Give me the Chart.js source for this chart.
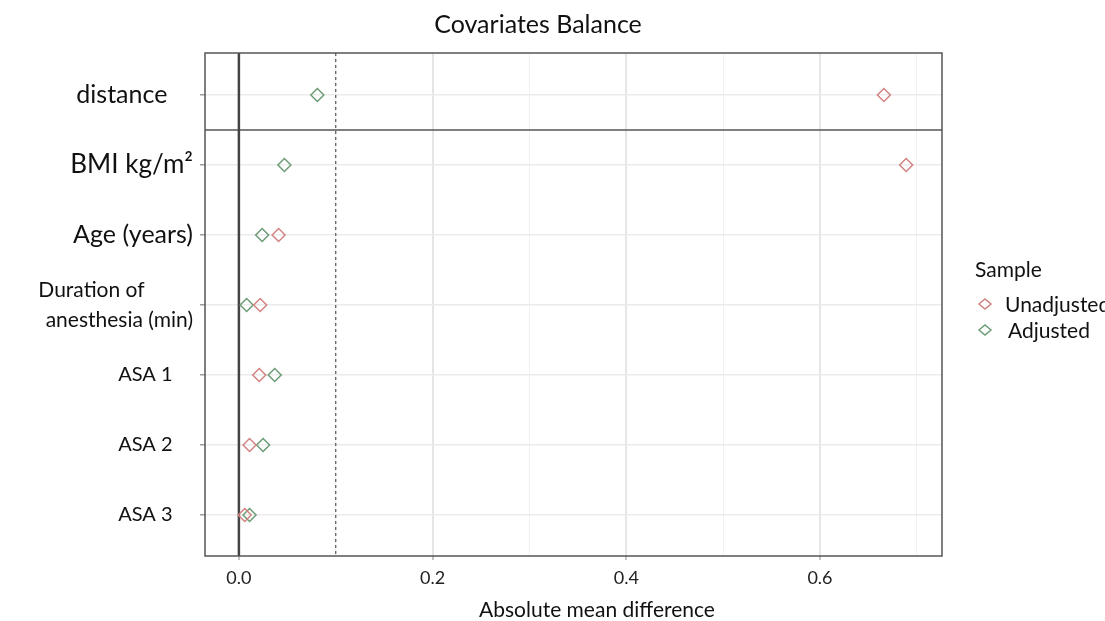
<!DOCTYPE html>
<html>
<head>
<meta charset="utf-8">
<script src="https://cdn.jsdelivr.net/npm/chart.js@4.4.0/dist/chart.umd.min.js"></script>
<style>
  html, body { margin: 0; padding: 0; background: #fff; }
  #wrap { width: 1105px; height: 621px; }
</style>
</head>
<body>
<div id="wrap"><canvas id="love"></canvas></div>
<script>
/* ── Data ───────────────────────────────────────────────────── */
const covariates  = ['distance', 'BMI kg/m²', 'Age (years)', ['Duration of', 'anesthesia (min)'], 'ASA 1', 'ASA 2', 'ASA 3'];
const unadjusted  = [0.666, 0.689, 0.041, 0.022, 0.021, 0.011, 0.006];
const adjusted    = [0.081, 0.047, 0.024, 0.008, 0.037, 0.025, 0.011];
const seriesNames = ['Unadjusted', 'Adjusted'];
const xMajorTicks = [0, 0.2, 0.4, 0.6];
const xMinorTicks = [0.1, 0.3, 0.5, 0.7];
const threshold   = 0.1;

/* ── Styles ─────────────────────────────────────────────────── */
const FONT       = 'Lato, "Open Sans", sans-serif';
const RED        = '#D48282';
const GREEN      = '#6C9C76';
const FRAME      = '#555555';
const labelSizes = [25, 26, 25, 21, 20, 20, 20];
const labelTail  = [4, 0, 0, 9, 4, 4, 4];   // trailing spaces to nudge labels left

const toPoints = vals => vals.map((v, i) => ({ x: v, y: i }));

/* ── Plugins: frame, reference lines, titles, legend ────────── */
const refLines = {
  id: 'refLines',
  beforeDatasetsDraw(chart) {
    const { ctx, chartArea: a, scales: { x, y } } = chart;
    ctx.save();
    ctx.strokeStyle = FRAME;

    // separator between distance and covariates
    ctx.lineWidth = 1.3;
    const ys = y.getPixelForValue(0.5);
    ctx.beginPath(); ctx.moveTo(a.left, ys); ctx.lineTo(a.right, ys); ctx.stroke();

    // threshold (dashed)
    ctx.lineWidth = 1.2;
    ctx.setLineDash([3, 3]);
    const xt = x.getPixelForValue(threshold);
    ctx.beginPath(); ctx.moveTo(xt, a.top); ctx.lineTo(xt, a.bottom); ctx.stroke();
    ctx.setLineDash([]);

    // zero line
    ctx.strokeStyle = '#444';
    ctx.lineWidth = 2.5;
    const x0 = x.getPixelForValue(0);
    ctx.beginPath(); ctx.moveTo(x0, a.top); ctx.lineTo(x0, a.bottom); ctx.stroke();

    // frame
    ctx.strokeStyle = FRAME;
    ctx.lineWidth = 1.5;
    ctx.strokeRect(a.left, a.top, a.right - a.left, a.bottom - a.top);
    ctx.restore();
  },
  afterDraw(chart) {
    const { ctx } = chart;
    ctx.save();
    ctx.fillStyle = '#111';
    ctx.textBaseline = 'middle';

    // titles
    ctx.textAlign = 'center';
    ctx.font = '25px ' + FONT;
    ctx.fillText('Covariates Balance', 538, 25);
    ctx.font = '21px ' + FONT;
    ctx.fillText('Absolute mean difference', 597, 610);

    // legend
    ctx.textAlign = 'left';
    ctx.font = '21px ' + FONT;
    ctx.fillText('Sample', 975, 270);
    chart.data.datasets.forEach((ds, i) => {
      const yy = 304 + i * 26;
      ctx.strokeStyle = ds.borderColor;
      ctx.lineWidth = 1.5;
      ctx.beginPath();
      ctx.moveTo(979, yy); ctx.lineTo(985, yy - 5); ctx.lineTo(991, yy); ctx.lineTo(985, yy + 5);
      ctx.closePath(); ctx.stroke();
      ctx.fillStyle = '#111';
      ctx.fillText(ds.label, 1005 + i * 3, yy + 1);
    });
    ctx.restore();
  }
};

/* ── Chart ──────────────────────────────────────────────────── */
new Chart(document.getElementById('love'), {
  type: 'scatter',
  data: {
    datasets: [
      { label: seriesNames[0], data: toPoints(unadjusted), borderColor: RED,   backgroundColor: 'rgba(255,255,255,0)' },
      { label: seriesNames[1], data: toPoints(adjusted),   borderColor: GREEN, backgroundColor: 'rgba(255,255,255,0)' }
    ]
  },
  options: {
    responsive: true,
    maintainAspectRatio: false,
    animation: false,
    elements: { point: { pointStyle: 'rectRot', radius: 6.5, borderWidth: 1.5 } },
    layout: { padding: { top: 53, right: 163, bottom: 0, left: 0 } },
    plugins: { legend: { display: false }, title: { display: false }, tooltip: { enabled: false } },
    scales: {
      x: {
        type: 'linear', min: -0.035, max: 0.726,
        afterBuildTicks: s => {
          s.ticks = [...xMajorTicks, ...xMinorTicks].sort((a, b) => a - b).map(v => ({ value: v }));
        },
        afterFit: s => { s.height = 65; },
        ticks: {
          autoSkip: false, maxRotation: 0, padding: 7, color: '#222',
          font: { family: FONT, size: 18 },
          callback: v => xMajorTicks.includes(v) ? v.toFixed(1) : ''
        },
        grid: {
          color: c => xMajorTicks.includes(c.tick.value) ? '#e6e6e6' : '#f1f1f1',
          lineWidth: c => xMajorTicks.includes(c.tick.value) ? 2 : 1,
          tickColor: c => xMajorTicks.includes(c.tick.value) ? '#c4c4c4' : 'rgba(0,0,0,0)',
          tickLength: 4
        },
        border: { display: false }
      },
      y: {
        type: 'linear', reverse: true, min: -0.6, max: 6.585,
        afterBuildTicks: s => { s.ticks = covariates.map((_, i) => ({ value: i })); },
        afterFit: s => { s.width = 205; },
        ticks: {
          padding: 7, color: '#111',
          font: c => ({ family: FONT, size: labelSizes[c.index] || 20, lineHeight: 1.45 }),
          callback: v => {
            const lab = covariates[v];
            const tail = ' '.repeat(labelTail[v] || 0);
            return Array.isArray(lab) ? [lab[0] + tail, lab[1]] : lab + tail;
          }
        },
        grid: { color: '#ebebeb', lineWidth: 1.5, tickColor: '#9a9a9a', tickLength: 5 },
        border: { display: false }
      }
    }
  },
  plugins: [refLines]
});
</script>
</body>
</html>
